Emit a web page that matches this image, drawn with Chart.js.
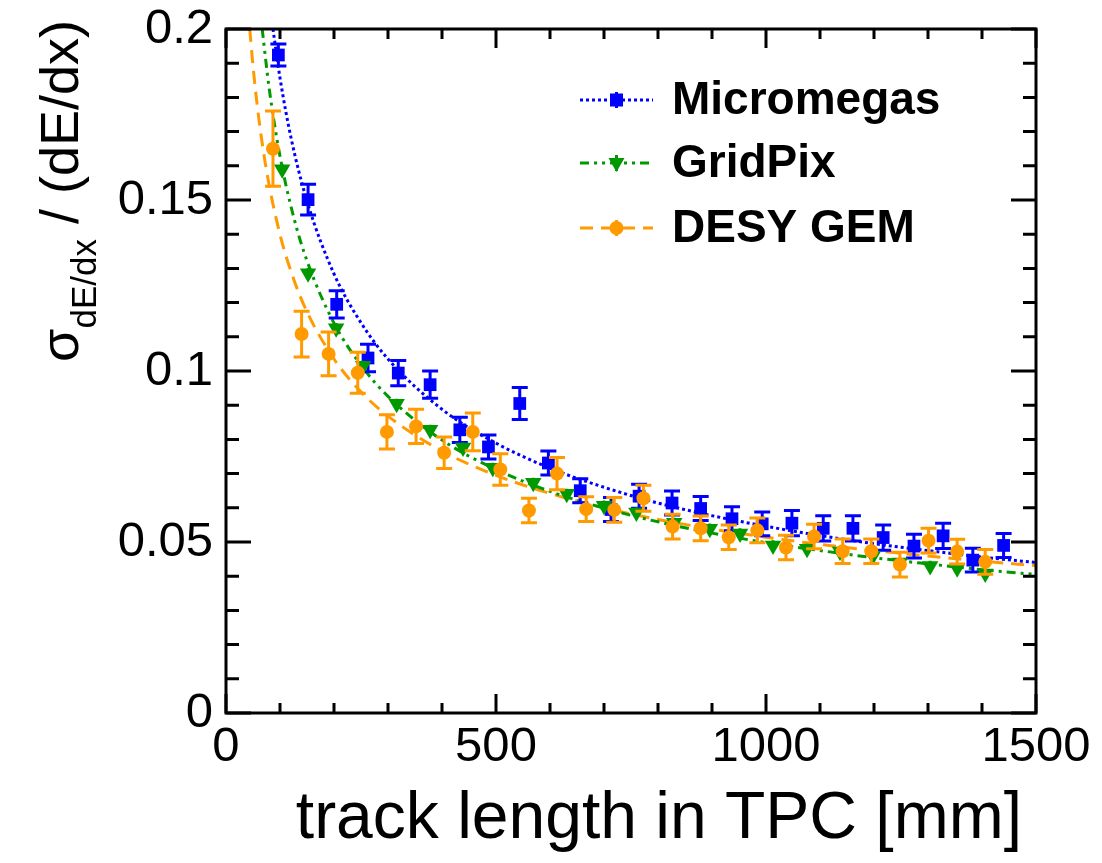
<!DOCTYPE html>
<html>
<head>
<meta charset="utf-8">
<script src="https://cdn.jsdelivr.net/npm/chart.js@4.4.1/dist/chart.umd.min.js"></script>
<style>
  html, body { margin: 0; padding: 0; background: #fff; }
  #wrap { width: 1102px; height: 863px; }
</style>
</head>
<body>
<div id="wrap"><canvas id="chart" width="1102" height="863"></canvas></div>
<script>
// Micromegas measurements: track length [mm], relative dE/dx resolution, error
const mmLength = [97, 152, 205, 263, 319, 378, 433, 486, 544, 597, 656, 713, 765, 826, 879, 937, 993, 1048, 1106, 1161, 1217, 1274, 1328, 1383, 1440];
const mmSigma  = [0.1924, 0.1501, 0.1195, 0.1038, 0.0994, 0.0960, 0.0828, 0.0778, 0.0905, 0.0731, 0.0650, 0.0595, 0.0634, 0.0614, 0.0598, 0.0568, 0.0553, 0.0555, 0.0540, 0.0540, 0.0513, 0.0488, 0.0518, 0.0447, 0.0490];
const mmError  = [0.0032, 0.0045, 0.0040, 0.0040, 0.0037, 0.0040, 0.0037, 0.0035, 0.0047, 0.0035, 0.0035, 0.0035, 0.0035, 0.0035, 0.0035, 0.0035, 0.0035, 0.0037, 0.0037, 0.0037, 0.0037, 0.0035, 0.0037, 0.0035, 0.0035];
const mmFitLength = [87, 100, 120, 150, 200, 250, 300, 400, 500, 600, 700, 800, 900, 1000, 1100, 1200, 1300, 1400, 1500];
const mmFitSigma  = [0.200, 0.1857, 0.1685, 0.1497, 0.1284, 0.1141, 0.1035, 0.0888, 0.0789, 0.0716, 0.0660, 0.0614, 0.0577, 0.0546, 0.0519, 0.0495, 0.0475, 0.0456, 0.0440];

// GridPix
const gpLength = [104, 152, 204, 254, 316, 378, 439, 494, 569, 631, 700, 760, 830, 896, 952, 1013, 1076, 1137, 1198, 1248, 1304, 1354, 1406];
const gpSigma  = [0.1590, 0.1286, 0.1125, 0.1015, 0.0904, 0.0828, 0.0776, 0.0717, 0.0673, 0.0641, 0.0606, 0.0586, 0.0556, 0.0539, 0.0525, 0.0490, 0.0480, 0.0472, 0.0460, 0.0440, 0.0430, 0.0423, 0.0408];
const gpError  = [0.0015, 0.0015, 0.0015, 0.0015, 0.0015, 0.0015, 0.0015, 0.0015, 0.0015, 0.0015, 0.0015, 0.0015, 0.0015, 0.0015, 0.0015, 0.0015, 0.0015, 0.0015, 0.0015, 0.0015, 0.0015, 0.0015, 0.0015];
const gpFitLength = [67, 80, 100, 125, 150, 200, 250, 300, 400, 500, 600, 700, 800, 900, 1000, 1100, 1200, 1300, 1400, 1500];
const gpFitSigma  = [0.200, 0.1826, 0.1628, 0.1452, 0.1322, 0.1140, 0.1017, 0.0926, 0.0798, 0.0712, 0.0648, 0.0599, 0.0559, 0.0526, 0.0498, 0.0475, 0.0454, 0.0436, 0.0419, 0.0405];

// DESY GEM
const gemLength = [87, 140, 190, 244, 298, 352, 404, 457, 508, 561, 613, 667, 719, 773, 827, 879, 931, 984, 1037, 1089, 1142, 1195, 1248, 1301, 1354, 1406];
const gemSigma  = [0.1650, 0.1108, 0.1050, 0.0995, 0.0822, 0.0838, 0.0761, 0.0822, 0.0712, 0.0592, 0.0700, 0.0596, 0.0594, 0.0628, 0.0545, 0.0540, 0.0514, 0.0534, 0.0484, 0.0516, 0.0473, 0.0473, 0.0434, 0.0504, 0.0472, 0.0442];
const gemError  = [0.0110, 0.0067, 0.0064, 0.0060, 0.0050, 0.0050, 0.0046, 0.0055, 0.0046, 0.0036, 0.0047, 0.0036, 0.0036, 0.0038, 0.0036, 0.0036, 0.0036, 0.0036, 0.0036, 0.0036, 0.0036, 0.0036, 0.0036, 0.0036, 0.0036, 0.0036];
const gemFitLength = [44, 50, 60, 75, 100, 125, 150, 200, 250, 300, 400, 500, 600, 700, 800, 900, 1000, 1100, 1200, 1300, 1400, 1500];
const gemFitSigma  = [0.200, 0.1892, 0.1748, 0.1586, 0.1399, 0.1270, 0.1173, 0.1035, 0.0939, 0.0868, 0.0766, 0.0695, 0.0642, 0.0600, 0.0566, 0.0538, 0.0514, 0.0493, 0.0475, 0.0459, 0.0444, 0.0431];

const seriesNames = ['Micromegas', 'GridPix', 'DESY GEM'];
const xTitle = 'track length in TPC [mm]';
const yTitleMain = 'σ';
const yTitleSub = 'dE/dx';
const yTitleRest = ' / (dE/dx)';

const FONT = '"Liberation Sans", Arial, Helvetica, sans-serif';
const BLUE = '#0000ff';
const GREEN = '#009a00';
const ORANGE = '#ff9a00';

const DASH = {
  dotted: [3, 3],
  dashDotDot: [9, 5, 3, 5, 3, 5],
  dashed: [13, 8],
};

const pts = (xs, ys) => xs.map((x, i) => ({ x, y: ys[i] }));

function fitLine(xs, ys, color, dash) {
  return {
    type: 'line',
    data: pts(xs, ys),
    borderColor: color,
    borderWidth: 3,
    borderDash: dash,
    pointRadius: 0,
    cubicInterpolationMode: 'monotone',
    fill: false,
    order: 10,
  };
}

function markers(xs, ys, errs, color, style, radius, cap, order) {
  return {
    type: 'scatter',
    data: pts(xs, ys),
    errors: errs,
    capHalf: cap,
    pointStyle: style.name,
    rotation: style.rotation || 0,
    pointRadius: radius,
    pointBackgroundColor: color,
    pointBorderColor: color,
    pointBorderWidth: 0,
    showLine: false,
    order,
  };
}

// vertical error bars, drawn right after each marker dataset so stacking follows dataset order
const errorBars = {
  id: 'errorBars',
  afterDatasetDraw(chart, args) {
    const ds = chart.data.datasets[args.index];
    if (!ds.errors) return;
    const { ctx, scales: { x, y }, chartArea: a } = chart;
    ctx.save();
    ctx.beginPath();
    ctx.rect(a.left, a.top, a.right - a.left, a.bottom - a.top);
    ctx.clip();
    ctx.strokeStyle = ds.pointBackgroundColor;
    ctx.lineWidth = 3;
    ctx.beginPath();
    ds.data.forEach((p, i) => {
      const px = x.getPixelForValue(p.x);
      const top = y.getPixelForValue(p.y + ds.errors[i]);
      const bot = y.getPixelForValue(p.y - ds.errors[i]);
      ctx.moveTo(px, top);
      ctx.lineTo(px, bot);
      if (ds.capHalf) {
        ctx.moveTo(px - ds.capHalf, top);
        ctx.lineTo(px + ds.capHalf, top);
        ctx.moveTo(px - ds.capHalf, bot);
        ctx.lineTo(px + ds.capHalf, bot);
      }
    });
    ctx.stroke();
    ctx.restore();
  },
};

function drawMarker(ctx, kind, color, cx, cy) {
  ctx.fillStyle = color;
  ctx.beginPath();
  if (kind === 'square') {
    ctx.rect(cx - 6.5, cy - 6.5, 13, 13);
  } else if (kind === 'triangleDown') {
    ctx.moveTo(cx - 8, cy - 5);
    ctx.lineTo(cx + 8, cy - 5);
    ctx.lineTo(cx, cy + 9);
    ctx.closePath();
  } else {
    ctx.arc(cx, cy, 7, 0, Math.PI * 2);
  }
  ctx.fill();
}

// frame with inward ticks on all four sides, axis titles and legend
const rootFrame = {
  id: 'rootFrame',
  afterDraw(chart) {
    const { ctx, chartArea: a, scales: { x, y } } = chart;
    ctx.save();
    ctx.strokeStyle = '#000';
    ctx.lineWidth = 3;
    ctx.beginPath();
    x.ticks.forEach(t => {
      const px = x.getPixelForValue(t.value);
      const len = Math.round(t.value) % 500 === 0 ? 19 : 10;
      ctx.moveTo(px, a.bottom); ctx.lineTo(px, a.bottom - len);
      ctx.moveTo(px, a.top); ctx.lineTo(px, a.top + len);
    });
    y.ticks.forEach(t => {
      const py = y.getPixelForValue(t.value);
      const len = Math.round(t.value * 100) % 5 === 0 ? 25 : 13;
      ctx.moveTo(a.left, py); ctx.lineTo(a.left + len, py);
      ctx.moveTo(a.right, py); ctx.lineTo(a.right - len, py);
    });
    ctx.stroke();
    ctx.strokeRect(a.left, a.top, a.right - a.left, a.bottom - a.top);

    // x title, right-aligned to the axis end
    ctx.fillStyle = '#000';
    ctx.font = '66px ' + FONT;
    ctx.textAlign = 'right';
    ctx.textBaseline = 'alphabetic';
    ctx.fillText(xTitle, a.right - 14, 838);

    // y title with subscript, rotated, ending near the top of the axis
    const big = '54px ' + FONT;
    const small = '35px ' + FONT;
    ctx.textAlign = 'left';
    ctx.font = big;
    const wMain = ctx.measureText(yTitleMain).width;
    const wRest = ctx.measureText(yTitleRest).width;
    ctx.font = small;
    const wSub = ctx.measureText(yTitleSub).width;
    const total = wMain + wSub + wRest;
    ctx.save();
    ctx.translate(78, 20 + total);
    ctx.rotate(-Math.PI / 2);
    ctx.font = big;
    ctx.fillText(yTitleMain, 0, 0);
    ctx.font = small;
    ctx.fillText(yTitleSub, wMain, 18);
    ctx.font = big;
    ctx.fillText(yTitleRest, wMain + wSub, 0);
    ctx.restore();

    // legend
    const entries = [
      { color: BLUE, dash: DASH.dotted, marker: 'square' },
      { color: GREEN, dash: DASH.dashDotDot, marker: 'triangleDown' },
      { color: ORANGE, dash: DASH.dashed, marker: 'circle' },
    ];
    const rowY = [a.top + 71, a.top + 134, a.top + 199];
    const x0 = a.left + 354, x1 = a.left + 427, xm = (x0 + x1) / 2;
    entries.forEach((e, i) => {
      const ly = rowY[i];
      ctx.strokeStyle = e.color;
      ctx.lineWidth = 3;
      ctx.setLineDash(e.dash);
      ctx.beginPath();
      ctx.moveTo(x0, ly);
      ctx.lineTo(x1, ly);
      ctx.stroke();
      ctx.setLineDash([]);
      ctx.beginPath();
      ctx.moveTo(xm, ly - 8);
      ctx.lineTo(xm, ly + 8);
      ctx.stroke();
      drawMarker(ctx, e.marker, e.color, xm, ly);
      ctx.fillStyle = '#000';
      ctx.font = 'bold 46px ' + FONT;
      ctx.textAlign = 'left';
      ctx.fillText(seriesNames[i], a.left + 446, ly + 14);
    });
    ctx.restore();
  },
};

Chart.defaults.font.family = FONT;
Chart.defaults.color = '#000';

new Chart(document.getElementById('chart'), {
  data: {
    datasets: [
      fitLine(mmFitLength, mmFitSigma, BLUE, DASH.dotted),
      fitLine(gpFitLength, gpFitSigma, GREEN, DASH.dashDotDot),
      fitLine(gemFitLength, gemFitSigma, ORANGE, DASH.dashed),
      markers(mmLength, mmSigma, mmError, BLUE, { name: 'rect' }, 9, 8, 3),
      markers(gpLength, gpSigma, gpError, GREEN, { name: 'triangle', rotation: 180 }, 9.5, 0, 2),
      markers(gemLength, gemSigma, gemError, ORANGE, { name: 'circle' }, 7, 8, 1),
    ],
  },
  options: {
    responsive: false,
    animation: false,
    devicePixelRatio: 1,
    layout: { padding: { left: 0, right: 66, top: 29, bottom: 0 } },
    plugins: { legend: { display: false }, tooltip: { enabled: false } },
    scales: {
      x: {
        type: 'linear',
        min: 0,
        max: 1500,
        grid: { display: false, drawTicks: false },
        border: { display: false },
        ticks: {
          stepSize: 100,
          autoSkip: false,
          maxRotation: 0,
          minRotation: 0,
          padding: 5,
          font: { size: 49 },
          color: '#000',
          callback: v => (Math.round(v) % 500 === 0 ? String(Math.round(v)) : ''),
        },
        afterFit(scale) {
          scale.height = 150;
          scale.paddingLeft = 0;
          scale.paddingRight = 0;
        },
      },
      y: {
        type: 'linear',
        min: 0,
        max: 0.2,
        grid: { display: false, drawTicks: false },
        border: { display: false },
        ticks: {
          stepSize: 0.01,
          maxTicksLimit: 100,
          autoSkip: false,
          padding: 13,
          font: { size: 49 },
          color: '#000',
          callback: v => {
            const k = Math.round(v * 100);
            return k % 5 === 0 ? String(k / 100) : '';
          },
        },
        afterFit(scale) {
          scale.width = 226;
          scale.paddingTop = 0;
          scale.paddingBottom = 0;
        },
      },
    },
  },
  plugins: [errorBars, rootFrame],
});
</script>
</body>
</html>
